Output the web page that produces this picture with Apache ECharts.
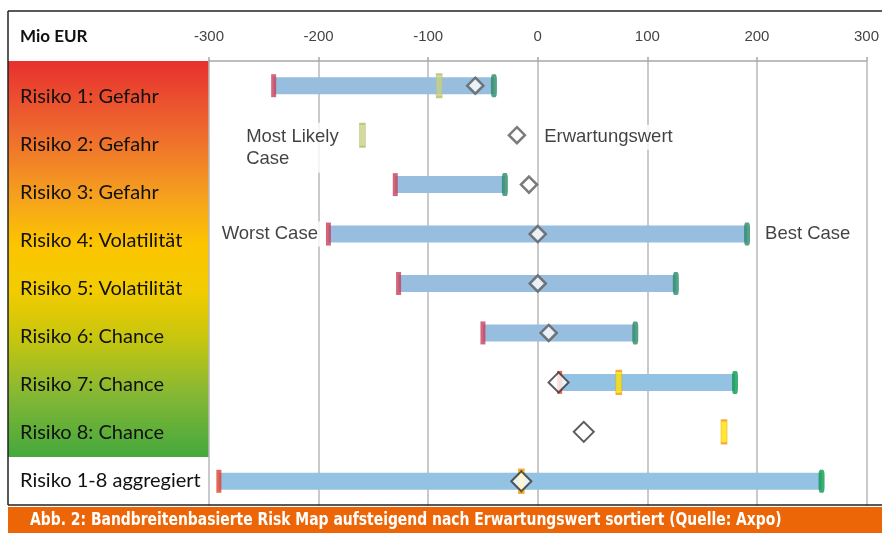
<!DOCTYPE html>
<html>
<head>
<meta charset="utf-8">
<script src="https://cdn.jsdelivr.net/npm/echarts@6/dist/echarts.min.js"></script>
<style>
  html, body { margin: 0; padding: 0; background: #ffffff; }
  #chart { width: 882px; height: 533px; }
</style>
</head>
<body>
<div id="chart"></div>
<script>
// Risk map: range per risk from worst case to best case (Mio EUR)
const categories = [
  'Risiko 1: Gefahr',
  'Risiko 2: Gefahr',
  'Risiko 3: Gefahr',
  'Risiko 4: Volatilität',
  'Risiko 5: Volatilität',
  'Risiko 6: Chance',
  'Risiko 7: Chance',
  'Risiko 8: Chance',
  'Risiko 1-8 aggregiert'
];
const worstCase     = [-241, null, -130, -191, -127, -50,  20, null, -291];
const bestCase      = [ -40, null,  -30,  191,  126,  89, 180, null,  259];
const mostLikely    = [ -90, -160, null, null, null, null,  74,  170,  -15];
const expectedValue = [ -57,  -19,   -8,    0,    0,  10,  19,   42,  -15];
const axisMin = -300, axisMax = 300, axisStep = 100;

// rows of the older (first) block are drawn in softer tones
const softRows = 6;

const chart = echarts.init(document.getElementById('chart'), null, { renderer: 'canvas' });

const annFont = '"Liberation Sans", Arial, sans-serif';
const whiteTag = { color: '#111', fontFamily: annFont, fontSize: 18.5, backgroundColor: '#ffffff', padding: [3, 4] };

function points(arr, softStyle, labels, softSize) {
  const out = [];
  arr.forEach((v, i) => {
    if (v == null) return;
    const item = { value: [v, i] };
    if (i < softRows) {
      item.itemStyle = softStyle;
      if (softSize) item.symbolSize = softSize;
    }
    if (labels && labels[i]) item.label = labels[i];
    out.push(item);
  });
  return out;
}

const rangeData = [];
worstCase.forEach((w, i) => {
  if (w != null && bestCase[i] != null) rangeData.push([w, bestCase[i], i]);
});

const option = {
  animation: false,
  backgroundColor: '#ffffff',
  grid: [
    { left: 209, right: 13, top: 61, bottom: 27 },
    { left: 8, width: 201, top: 73, height: 432 }
  ],
  xAxis: [
    {
      gridIndex: 0, type: 'value', position: 'top',
      min: axisMin, max: axisMax, interval: axisStep,
      axisLine: { show: true, lineStyle: { color: '#a8a8a8', width: 1.5 } },
      axisTick: { show: true, length: 4, lineStyle: { color: '#a8a8a8', width: 1.5 } },
      axisLabel: { color: '#444', fontSize: 15, fontFamily: annFont, margin: 17 },
      splitLine: { show: true, lineStyle: { color: '#b8b8b8', width: 1.5 } }
    },
    { gridIndex: 1, type: 'value', show: false, min: 0, max: 1 }
  ],
  yAxis: [
    {
      gridIndex: 0, type: 'category', inverse: true, data: categories,
      axisLine: { show: false }, axisTick: { show: false }, axisLabel: { show: false },
      splitLine: { show: false }
    },
    {
      gridIndex: 1, type: 'category', inverse: true, data: categories,
      axisLine: { show: false }, axisTick: { show: false },
      axisLabel: { inside: true, margin: 12, color: '#111', fontSize: 20, fontFamily: 'Lato, sans-serif' }
    }
  ],
  graphic: [
    // left label column: colour ramp from danger (red) to chance (green)
    {
      type: 'rect', z: -1, shape: { x: 8, y: 61, width: 201, height: 396 },
      style: {
        fill: new echarts.graphic.LinearGradient(0, 0, 0, 1, [
          { offset: 0.00, color: '#e8302f' },
          { offset: 0.18, color: '#ee6a2e' },
          { offset: 0.34, color: '#f5a01e' },
          { offset: 0.46, color: '#fcc400' },
          { offset: 0.58, color: '#f2cc00' },
          { offset: 0.70, color: '#c7c60e' },
          { offset: 0.84, color: '#86b834' },
          { offset: 1.00, color: '#45a83d' }
        ])
      }
    },
    // frame
    { type: 'line', z: 10, shape: { x1: 8, y1: 11, x2: 882, y2: 11 }, style: { stroke: '#222', lineWidth: 1.5 } },
    { type: 'line', z: 10, shape: { x1: 8, y1: 11, x2: 8, y2: 505 }, style: { stroke: '#222', lineWidth: 1.5 } },
    { type: 'line', z: 10, shape: { x1: 8, y1: 505, x2: 882, y2: 505 }, style: { stroke: '#222', lineWidth: 1.5 } },
    {
      type: 'text', z: 10, x: 20, y: 37,
      style: { text: 'Mio EUR', fill: '#111', font: 'bold 17px Lato, sans-serif', verticalAlign: 'middle' }
    },
    // caption band
    { type: 'rect', z: 10, shape: { x: 8, y: 507, width: 874, height: 26 }, style: { fill: '#ec6608' } },
    {
      type: 'text', z: 11, x: 30, y: 521, scaleX: 0.91,
      style: {
        text: 'Abb. 2: Bandbreitenbasierte Risk Map aufsteigend nach Erwartungswert sortiert (Quelle: Axpo)',
        fill: '#ffffff', font: 'bold 17px "Liberation Sans Narrow", "DejaVu Sans Condensed", sans-serif',
        verticalAlign: 'middle'
      }
    }
  ],
  series: [
    {
      name: 'Bandbreite', type: 'custom', xAxisIndex: 0, yAxisIndex: 0, z: 2,
      encode: { x: [0, 1], y: 2 },
      data: rangeData,
      renderItem: function (params, api) {
        const row = api.value(2);
        const lo = api.coord([api.value(0), row]);
        const hi = api.coord([api.value(1), row]);
        const h = 17;
        return {
          type: 'rect',
          shape: { x: lo[0], y: lo[1] - h / 2, width: hi[0] - lo[0], height: h },
          style: { fill: row < softRows ? '#97bedf' : '#93c2e3' }
        };
      }
    },
    {
      name: 'Worst Case', type: 'scatter', xAxisIndex: 0, yAxisIndex: 0, z: 3,
      symbol: 'rect', symbolSize: [5, 23],
      itemStyle: { color: '#e2402a' },
      data: points(worstCase, { color: '#c8405a' }, {
        3: { show: true, formatter: 'Worst Case', position: 'left', distance: 4, ...whiteTag }
      })
    },
    {
      name: 'Best Case', type: 'scatter', xAxisIndex: 0, yAxisIndex: 0, z: 3,
      symbol: 'roundRect', symbolSize: [6, 23],
      itemStyle: { color: '#0c9a4e' },
      data: points(bestCase, { color: '#2a8a68' }, {
        3: { show: true, formatter: 'Best Case', position: 'right', distance: 11, ...whiteTag }
      })
    },
    {
      name: 'Most Likely Case', type: 'scatter', xAxisIndex: 0, yAxisIndex: 0, z: 4,
      symbol: 'rect', symbolSize: [6, 23],
      itemStyle: { color: '#ffe400', borderColor: '#f49a1e', borderWidth: 1.2 },
      data: points(mostLikely, { color: '#c9cf84', borderColor: '#b5bd70', borderWidth: 1 }, {
        1: {
          show: true, formatter: 'Most Likely\nCase', position: [-117, 0],
          align: 'left', verticalAlign: 'top', lineHeight: 22, ...whiteTag
        }
      })
    },
    {
      name: 'Erwartungswert', type: 'scatter', xAxisIndex: 0, yAxisIndex: 0, z: 5,
      symbol: 'diamond', symbolSize: [20, 20],
      itemStyle: { color: '#ffffff', borderColor: '#333333', borderWidth: 2 },
      data: points(expectedValue, { color: '#ffffff', borderColor: '#5a5a5a', borderWidth: 2.5 }, {
        1: { show: true, formatter: 'Erwartungswert', position: 'right', distance: 14, offset: [0, 2], ...whiteTag }
      }, [16, 16])
    }
  ]
};

chart.setOption(option);
</script>
</body>
</html>
